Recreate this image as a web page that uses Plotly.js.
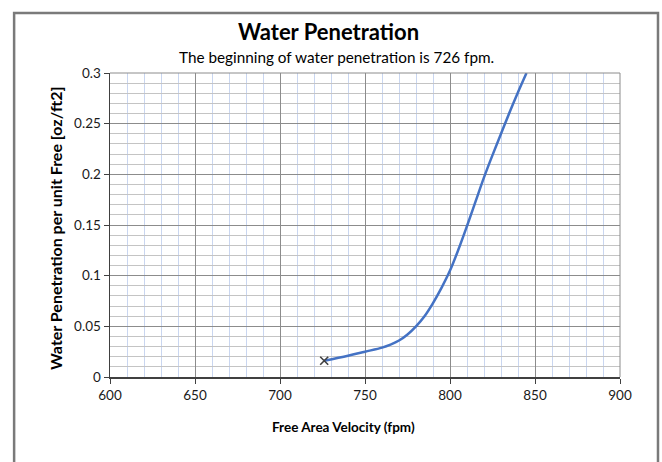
<!DOCTYPE html>
<html>
<head>
<meta charset="utf-8">
<script src="https://cdn.plot.ly/plotly-3.0.1.min.js"></script>
<style>html,body{margin:0;padding:0;background:#fff;}#chart{width:662px;height:462px;}</style>
</head>
<body>
<div id="chart"></div>
<script>
const velocity = [726, 740, 750, 760, 765, 770, 775, 780, 785, 790, 795, 800, 805, 810, 815, 820, 825, 830, 835, 840, 845];
const penetration = [0.016, 0.021, 0.025, 0.029, 0.032, 0.036, 0.042, 0.050, 0.060, 0.073, 0.088, 0.105, 0.126, 0.149, 0.173, 0.197, 0.219, 0.240, 0.261, 0.281, 0.300];
const startVelocity = [726];
const startPenetration = [0.016];
const xTicks = [600, 650, 700, 750, 800, 850, 900];
const yTicks = [0, 0.05, 0.1, 0.15, 0.2, 0.25, 0.3];
const yTickText = ['0', '0.05', '0.1', '0.15', '0.2', '0.25', '0.3'];

const FONT = 'Lato, "Open Sans", sans-serif';

const traces = [
  {
    x: velocity, y: penetration, mode: 'lines', type: 'scatter',
    line: {color: '#4472c4', width: 2.5, shape: 'spline', smoothing: 1},
    hoverinfo: 'skip', showlegend: false
  },
  {
    x: startVelocity, y: startPenetration, mode: 'markers', type: 'scatter',
    marker: {symbol: 'x-thin-open', size: 8, color: '#404040', line: {color: '#404040', width: 1.6}},
    hoverinfo: 'skip', showlegend: false
  }
];

const layout = {
  width: 662, height: 462,
  margin: {l: 110, r: 42, t: 73, b: 85},
  paper_bgcolor: '#ffffff', plot_bgcolor: '#ffffff',
  font: {family: FONT, color: '#000000', size: 13},
  showlegend: false,
  xaxis: {
    range: [600, 900], tickvals: xTicks, ticktext: xTicks.map(String),
    showgrid: true, gridcolor: '#8c8c8c', gridwidth: 1,
    minor: {dtick: 10, showgrid: true, gridcolor: '#c9d6f0', gridwidth: 1, ticks: ''},
    showline: true, linecolor: '#404040', linewidth: 1.5,
    ticks: 'outside', ticklen: 5, tickcolor: '#404040',
    zeroline: false, tickfont: {family: FONT, size: 13.5, color: '#1a1a1a'},
    fixedrange: true
  },
  yaxis: {
    range: [0, 0.3], tickvals: yTicks, ticktext: yTickText,
    showgrid: true, gridcolor: '#8c8c8c', gridwidth: 1,
    minor: {dtick: 0.01, showgrid: true, gridcolor: '#c4c4c4', gridwidth: 1, ticks: ''},
    showline: true, linecolor: '#404040', linewidth: 1.5,
    ticks: 'outside', ticklen: 5, tickcolor: '#404040',
    zeroline: false, tickfont: {family: FONT, size: 13.5, color: '#1a1a1a'},
    fixedrange: true
  },
  shapes: [
    {type: 'line', xref: 'paper', yref: 'paper', x0: 0, x1: 1, y0: 1, y1: 1, line: {color: '#8c8c8c', width: 1}},
    {type: 'line', xref: 'paper', yref: 'paper', x0: 1, x1: 1, y0: 0, y1: 1, line: {color: '#8c8c8c', width: 1}},
    {type: 'rect', xref: 'paper', yref: 'paper', x0: -0.188, x1: 1.0745, y0: -0.32, y1: 1.197, line: {color: '#7a7a7a', width: 2.5}, fillcolor: 'rgba(0,0,0,0)'}
  ],
  annotations: [
    {text: '<b>Water Penetration</b>', xref: 'paper', yref: 'paper', x: 0.4294, y: 1.135, xanchor: 'center', yanchor: 'middle', showarrow: false, font: {family: FONT, size: 22, color: '#000'}},
    {text: 'The beginning of water penetration is 726 fpm.', xref: 'paper', yref: 'paper', x: 0.445, y: 1.0526, xanchor: 'center', yanchor: 'middle', showarrow: false, font: {family: FONT, size: 15.3, color: '#000'}},
    {text: '<b>Free Area Velocity (fpm)</b>', xref: 'paper', yref: 'paper', x: 0.457, y: -0.1645, xanchor: 'center', yanchor: 'middle', showarrow: false, font: {family: FONT, size: 13.5, color: '#000'}},
    {text: '<b>Water Penetration per unit Free [oz/ft2]</b>', xref: 'paper', yref: 'paper', x: -0.108, y: 0.49, xanchor: 'center', yanchor: 'middle', textangle: -90, showarrow: false, font: {family: FONT, size: 16, color: '#000'}}
  ]
};

Plotly.newPlot('chart', traces, layout, {staticPlot: true, displayModeBar: false});
</script>
</body>
</html>
